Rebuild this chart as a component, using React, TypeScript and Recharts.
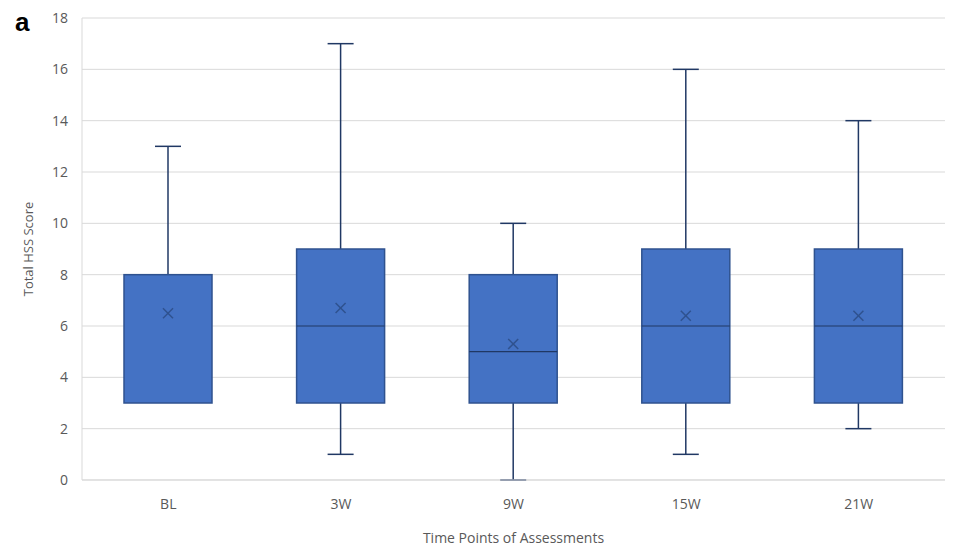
import { Bar, CartesianGrid, ComposedChart, XAxis, YAxis } from 'recharts';

const categories = ['BL', '3W', '9W', '15W', '21W'];
const mins = [3, 1, 0, 1, 2];
const q1s = [3, 3, 3, 3, 3];
const medians = [8, 6, 5, 6, 6];
const q3s = [8, 9, 8, 9, 9];
const maxs = [13, 17, 10, 16, 14];
const means = [6.5, 6.7, 5.3, 6.4, 6.4];
const yTicks = [0, 2, 4, 6, 8, 10, 12, 14, 16, 18];

const data = categories.map((name, i) => ({
    name,
    range: [mins[i], maxs[i]],
    min: mins[i],
    q1: q1s[i],
    median: medians[i],
    q3: q3s[i],
    max: maxs[i],
    mean: means[i],
}));

const BOX_FILL = '#4472c4';
const BOX_EDGE = '#2f528f';
const WHISKER = '#203864';

// draws the whole box plot for one category, using the pixel span the bar got for [min, max]
const BoxShape = (props: any) => {
    const { x, y, width, height, payload } = props;
    const span = payload.max - payload.min;
    const h = Math.abs(height);
    const py = (v: number) => y + ((payload.max - v) / span) * h;
    const cx = x + width / 2;
    const cap = 13;
    const yMax = py(payload.max);
    const yMin = py(payload.min);
    const yQ1 = py(payload.q1);
    const yQ3 = py(payload.q3);
    const yMed = py(payload.median);
    const yMean = py(payload.mean);
    const m = 5;
    return (
        <g>
            <line x1={cx} x2={cx} y1={yMax} y2={yQ3} stroke={WHISKER} strokeWidth={1.5} />
            <line x1={cx - cap} x2={cx + cap} y1={yMax} y2={yMax} stroke={WHISKER} strokeWidth={1.5} />
            {payload.min < payload.q1 && (
                <>
                    <line x1={cx} x2={cx} y1={yQ1} y2={yMin} stroke={WHISKER} strokeWidth={1.5} />
                    <line x1={cx - cap} x2={cx + cap} y1={yMin} y2={yMin} stroke={WHISKER} strokeWidth={1.5} />
                </>
            )}
            <rect x={x} y={yQ3} width={width} height={yQ1 - yQ3} fill={BOX_FILL} stroke={BOX_EDGE} strokeWidth={1.5} />
            {payload.median < payload.q3 && payload.median > payload.q1 && (
                <line x1={x} x2={x + width} y1={yMed} y2={yMed} stroke={WHISKER} strokeWidth={1.2} />
            )}
            <line x1={cx - m} x2={cx + m} y1={yMean - m} y2={yMean + m} stroke={BOX_EDGE} strokeWidth={1.5} />
            <line x1={cx - m} x2={cx + m} y1={yMean + m} y2={yMean - m} stroke={BOX_EDGE} strokeWidth={1.5} />
        </g>
    );
};

export default function App() {
    const font = '"Open Sans", "Noto Sans", sans-serif';
    return (
        <div style={{ position: 'absolute', left: 0, top: 0, width: 960, height: 551, background: '#fff' }}>
            <ComposedChart
                width={960}
                height={551}
                data={data}
                margin={{ top: 18, right: 15, bottom: 41, left: 0 }}
            >
                <CartesianGrid vertical={false} stroke="#d9d9d9" />
                <XAxis
                    dataKey="name"
                    height={30}
                    stroke="#d9d9d9"
                    tickLine={false}
                    tickMargin={13}
                    tick={{ fill: '#595959', fontSize: 14, fontFamily: font }}
                    label={{
                        value: 'Time Points of Assessments',
                        position: 'insideBottom',
                        offset: -33,
                        fill: '#595959',
                        fontSize: 14,
                        fontFamily: font,
                    }}
                />
                <YAxis
                    width={82}
                    domain={[0, 18]}
                    ticks={yTicks}
                    stroke="#d9d9d9"
                    tickLine={false}
                    tickMargin={8}
                    tick={{ fill: '#595959', fontSize: 14, fontFamily: font }}
                    label={{
                        value: 'Total HSS Score',
                        angle: -90,
                        position: 'insideLeft',
                        offset: 28,
                        fill: '#595959',
                        fontSize: 13,
                        fontFamily: font,
                        style: { textAnchor: 'middle' },
                    }}
                />
                <Bar dataKey="range" barSize={88} shape={BoxShape} isAnimationActive={false} />
                <text x={15} y={31} fontSize={26} fontWeight="bold" fontFamily="Liberation Sans" fill="#000">
                    a
                </text>
            </ComposedChart>
        </div>
    );
}
